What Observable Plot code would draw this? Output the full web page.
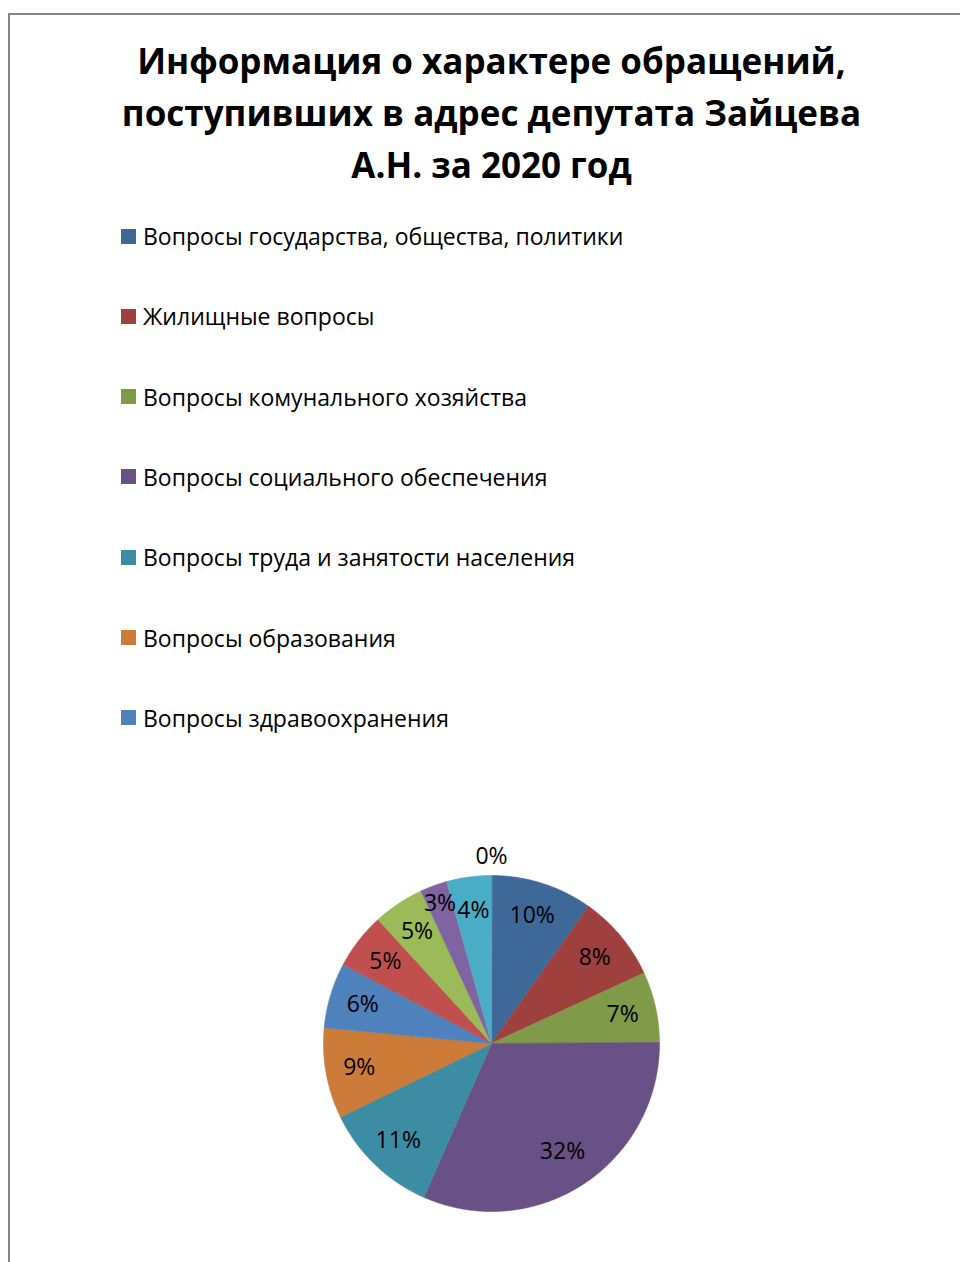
<!DOCTYPE html>
<html>
<head>
<meta charset="utf-8">
<script src="https://cdn.jsdelivr.net/npm/d3@7"></script>
<script src="https://cdn.jsdelivr.net/npm/@observablehq/plot@0.6"></script>
<style>
  html, body { margin: 0; padding: 0; background: #fff; }
  #page { position: relative; width: 960px; height: 1262px; overflow: hidden; font-family: "Open Sans", sans-serif; color: #000; }
  #frame { position: absolute; left: 8px; top: 13px; width: 1000px; height: 1300px; border-left: 2px solid #868686; border-top: 2px solid #868686; box-sizing: border-box; }
  #title { position: absolute; left: 0; top: 35px; width: 983px; text-align: center; font-weight: 700; font-size: 35px; line-height: 52px; }
  .leg { position: absolute; left: 121px; height: 30px; display: flex; align-items: center; font-size: 23px; white-space: nowrap; }
  .sw { width: 15px; height: 15px; margin-right: 7px; flex: none; }
  #pie { position: absolute; left: 281px; top: 833px; }
</style>
</head>
<body>
<div id="page">
  <div id="frame"></div>
  <div id="title">Информация о характере обращений,<br>поступивших в адрес депутата Зайцева<br>А.Н. за 2020 год</div>
  <div id="legend"></div>
  <div id="pie"></div>
</div>
<script>
// Legend categories (only the first seven are listed in the legend)
const categories = [
  "Вопросы государства, общества, политики",
  "Жилищные вопросы",
  "Вопросы комунального хозяйства",
  "Вопросы социального обеспечения",
  "Вопросы труда и занятости населения",
  "Вопросы образования",
  "Вопросы здравоохранения"
];
// Slice shares, in percent, clockwise from 12 o'clock
const shares = [9.8, 8.3, 6.8, 31.7, 11.2, 8.7, 6.3, 5.4, 4.9, 2.6, 4.3, 0];
// Slice colours
const colors = ["#3E6898", "#9E413E", "#7F9A48", "#695185", "#3C8DA3", "#CC7B38",
                "#4F81BD", "#C0504D", "#9BBB59", "#8064A2", "#4BACC6", "#F79646"];

// Legend
const legend = document.getElementById("legend");
categories.forEach((c, i) => {
  const row = document.createElement("div");
  row.className = "leg";
  row.style.top = (236 - 15 + i * 80.3) + "px";
  const sw = document.createElement("span");
  sw.className = "sw";
  sw.style.background = colors[i];
  const tx = document.createElement("span");
  tx.textContent = c;
  row.appendChild(sw); row.appendChild(tx);
  legend.appendChild(row);
});

// Pie geometry via d3.pie
const arcs = d3.pie().sort(null).value(d => d)(shares);
const points = [];
arcs.forEach((a, i) => {
  if (a.endAngle - a.startAngle <= 0) return;
  points.push({i, x: 0, y: 0});
  const n = Math.max(2, Math.ceil((a.endAngle - a.startAngle) / 0.01));
  for (let k = 0; k <= n; k++) {
    const t = a.startAngle + (a.endAngle - a.startAngle) * k / n;
    points.push({i, x: Math.sin(t), y: Math.cos(t)});
  }
});
const labels = arcs.map((a, i) => {
  const m = (a.startAngle + a.endAngle) / 2;
  const v = shares[i];
  const r = v === 0 ? 1.11 : (v < 3 ? 0.89 : (v > 20 ? 0.77 : 0.8));
  return {i, x: r * Math.sin(m), y: r * Math.cos(m), text: Math.round(v) + "%"};
});

const idx = shares.map((_, i) => i);
const chart = Plot.plot({
  width: 420,
  height: 420,
  margin: 0,
  x: {domain: [-1.25, 1.25], axis: null},
  y: {domain: [-1.25, 1.25], axis: null},
  color: {type: "ordinal", domain: idx, range: colors},
  style: {fontFamily: "Open Sans, sans-serif", background: "transparent", overflow: "visible"},
  marks: [
    Plot.line(points, {x: "x", y: "y", z: "i", fill: "i", stroke: "i", strokeWidth: 0.6, curve: "linear-closed"}),
    Plot.text(labels, {x: "x", y: "y", text: "text", fontSize: 23, fill: "#000", textAnchor: "middle", lineAnchor: "middle"})
  ]
});
document.getElementById("pie").appendChild(chart);
</script>
</body>
</html>
